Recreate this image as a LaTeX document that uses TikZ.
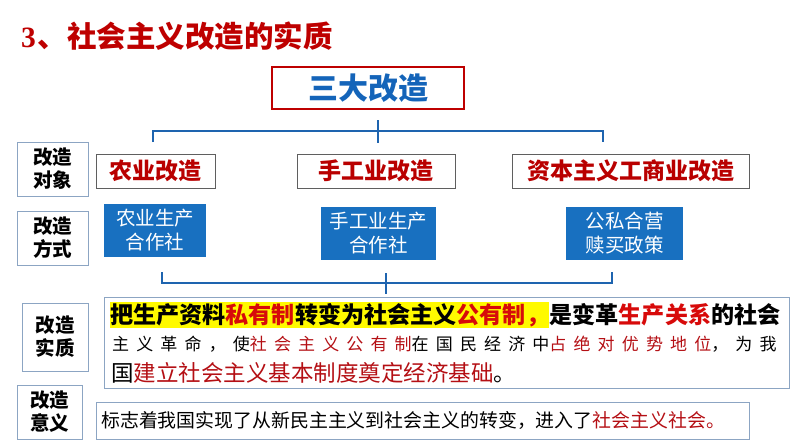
\documentclass[tikz,border=0pt]{standalone}
\usepackage{fontspec}
\setmainfont{Noto Sans CJK SC}
\newfontfamily\numfont{Liberation Serif}
\newfontfamily\spacedfont[LetterSpace=42]{Noto Sans CJK SC}
\usetikzlibrary{positioning}
\definecolor{titlered}{RGB}{190,0,0}
\definecolor{catred}{RGB}{185,0,0}
\definecolor{hotred}{RGB}{215,10,10}
\definecolor{deepred}{RGB}{180,15,20}
\definecolor{treeblue}{RGB}{30,100,175}
\definecolor{boxblue}{RGB}{24,112,192}
\definecolor{headblue}{RGB}{20,100,185}
\definecolor{framegray}{RGB}{140,165,195}
\definecolor{catgray}{RGB}{95,95,95}
\definecolor{markyellow}{RGB}{255,250,0}

\tikzset{
  side/.style={draw=framegray, line width=1pt, align=center, inner sep=0pt,
               font=\fontsize{19.5}{23}\selectfont\bfseries},
  catbox/.style={draw=catgray, line width=0.9pt, minimum height=34pt, inner sep=0pt,
                 text=catred, font=\fontsize{23}{26}\selectfont\bfseries},
  waybox/.style={fill=boxblue, text=white, align=center, minimum height=53pt,
                 inner sep=0pt, font=\fontsize{19.5}{24}\selectfont},
  panel/.style={draw=framegray, line width=1pt, inner sep=0pt},
  link/.style={treeblue, line width=2.4pt},
}

\begin{document}
\begin{tikzpicture}[x=1pt, y=-1pt]
  \useasboundingbox (0,0) rectangle (794,447);
  % heading
  \node[anchor=west, inner sep=0pt, text=titlered, font=\fontsize{29.5}{32}\selectfont\bfseries]
    (title) at (21,36) {{\numfont 3}\kern2pt、社会主义改造的实质};
  \node[draw=titlered, line width=2pt, minimum width=192pt, minimum height=42pt, inner sep=0pt,
        text=headblue, font=\fontsize{30}{32}\selectfont\bfseries]
    (three) at (368,88) {三大改造};

  % row labels
  \node[side, minimum width=71pt, minimum height=54pt] (objlbl) at (52.5,169) {改造\\对象};
  \node[side, minimum width=71pt, minimum height=54pt] (waylbl) at (52.5,238) {改造\\方式};
  \node[side, minimum width=66pt, minimum height=68pt] (esslbl) at (55,337) {改造\\实质};
  \node[side, minimum width=65pt, minimum height=54pt] (siglbl) at (49.5,412) {改造\\意义};

  % the three transformations
  \node[catbox, minimum width=119pt] (farm) at (155.5,171) {农业改造};
  \node[catbox, minimum width=158pt] (craft) at (376,171) {手工业改造};
  \node[catbox, minimum width=237pt] (trade) at (630.5,171) {资本主义工商业改造};

  \node[waybox, minimum width=102pt] (farmway) at (155,230.5) {农业生产\\合作社};
  \node[waybox, minimum width=115pt] (craftway) at (378.5,233.5) {手工业生产\\合作社};
  \node[waybox, minimum width=117pt] (tradeway) at (624.5,233.5) {公私合营\\赎买政策};

  % tree above
  \coordinate (hubtop) at (378,120);
  \coordinate (barL) at (153,131);
  \coordinate (barR) at (603,131);
  \draw[link] ([yshift=-11pt]barL) -- (barL) -- (barR) -- ([yshift=-11pt]barR);
  \draw[link] (hubtop) -- (378,143);

  % bracket below
  \coordinate (lowL) at (162,283);
  \coordinate (lowR) at (612,283);
  \coordinate (lowM) at (386,273);
  \draw[link] ([yshift=11pt]lowL) -- (lowL) -- (lowR) -- ([yshift=11pt]lowR);
  \draw[link] (lowM) -- (386,294);

  % essence
  \node[panel, minimum width=685pt, minimum height=91pt] (essence) at (446.5,342.5) {};
  \node[anchor=west, fill=markyellow, inner sep=0pt, minimum height=26pt,
        font=\fontsize{23.1}{26}\selectfont\bfseries]
    (ess1a) at (110,315) {把生产资料{\color{hotred}私有制}转变为社会主义{\color{hotred}公有制，}};
  \node[anchor=base west, inner sep=0pt, font=\fontsize{23.1}{26}\selectfont\bfseries]
    (ess1b) at (ess1a.base east) {是变革{\color{hotred}生产关系}的社会};
  \node[anchor=west, inner sep=0pt, font=\fontsize{17}{20}\spacedfont]
    (ess2) at (112,344) {主义革命，使{\color{deepred}社会主义公有制}在国民经济中{\color{deepred}占绝对优势地位}，为我};
  \node[anchor=west, inner sep=0pt, font=\fontsize{22.5}{26}\selectfont]
    (ess3) at (111,373) {国{\color{deepred}建立社会主义基本制度奠定经济基础}。};

  % significance
  \node[panel, minimum width=653pt, minimum height=37pt] (meaning) at (422.5,420.5) {};
  \node[anchor=west, inner sep=0pt, font=\fontsize{18.9}{22}\selectfont]
    (meantext) at (101,420.5) {标志着我国实现了从新民主主义到社会主义的转变，进入了{\color{deepred}社会主义社会。}};
\end{tikzpicture}
\end{document}
